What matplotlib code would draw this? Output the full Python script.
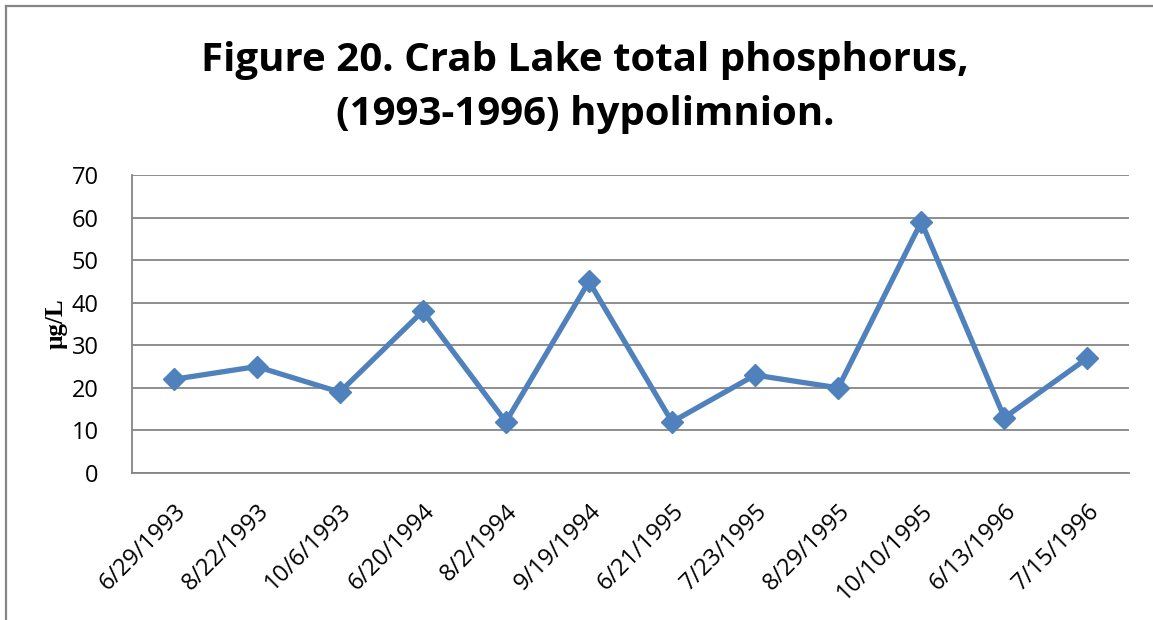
import matplotlib
matplotlib.use("Agg")
import matplotlib.pyplot as plt
from matplotlib.lines import Line2D

dates = ["6/29/1993", "8/22/1993", "10/6/1993", "6/20/1994", "8/2/1994",
         "9/19/1994", "6/21/1995", "7/23/1995", "8/29/1995", "10/10/1995",
         "6/13/1996", "7/15/1996"]
phosphorus = [22, 25, 19, 38, 12, 45, 12, 23, 20, 59, 13, 27]
y_ticks = [0, 10, 20, 30, 40, 50, 60, 70]

W, H = 1153, 620
fig = plt.figure(figsize=(W / 100, H / 100), dpi=100)
fig.patch.set_facecolor("white")

# chart frame: left and top edges
for xs, ys in [([5.5, 5.5], [0, 614.5]), ([5.5, 1153], [614.5, 614.5])]:
    fig.add_artist(Line2D([x / W for x in xs], [y / H for y in ys],
                          color="#868686", lw=1.6, transform=fig.transFigure))

left, right, top, bottom = 132, 1129, 175, 473
ax = fig.add_axes([left / W, 1 - bottom / H, (right - left) / W, (bottom - top) / H])

x = list(range(len(dates)))
ax.plot(x, phosphorus, color="#4F81BD", lw=3.8, marker="D", ms=11.5,
        markeredgecolor="#4F81BD", markerfacecolor="#4F81BD", zorder=3,
        solid_joinstyle="miter")

ax.set_xlim(-0.5, len(dates) - 0.5)
ax.set_ylim(0, 70)
ax.set_yticks(y_ticks)
ax.set_yticklabels([str(v) for v in y_ticks], fontsize=17, family="Open Sans")
ax.yaxis.grid(True, color="#868686", lw=1.3)
ax.set_axisbelow(True)
ax.tick_params(axis="y", length=0, pad=24)
ax.tick_params(axis="x", length=0, pad=19)
ax.set_xticks(x)
ax.set_xticklabels(dates, rotation=45, ha="right", va="top",
                   rotation_mode="anchor", fontsize=17, family="Open Sans")
for s in ["top", "right"]:
    ax.spines[s].set_visible(False)
for s in ["left", "bottom"]:
    ax.spines[s].set_color("#868686")
    ax.spines[s].set_linewidth(1.3)

ax.set_ylabel("µg/L", fontsize=18, fontweight="bold",
              family="Liberation Serif", labelpad=3)

fig.text(585 / W, 1 - 88 / H,
         "Figure 20. Crab Lake total phosphorus,\n(1993-1996) hypolimnion.",
         ha="center", va="center", fontsize=29, fontweight="bold",
         family="Open Sans", linespacing=1.5)

fig.savefig("out.png", dpi=100, facecolor="white")
